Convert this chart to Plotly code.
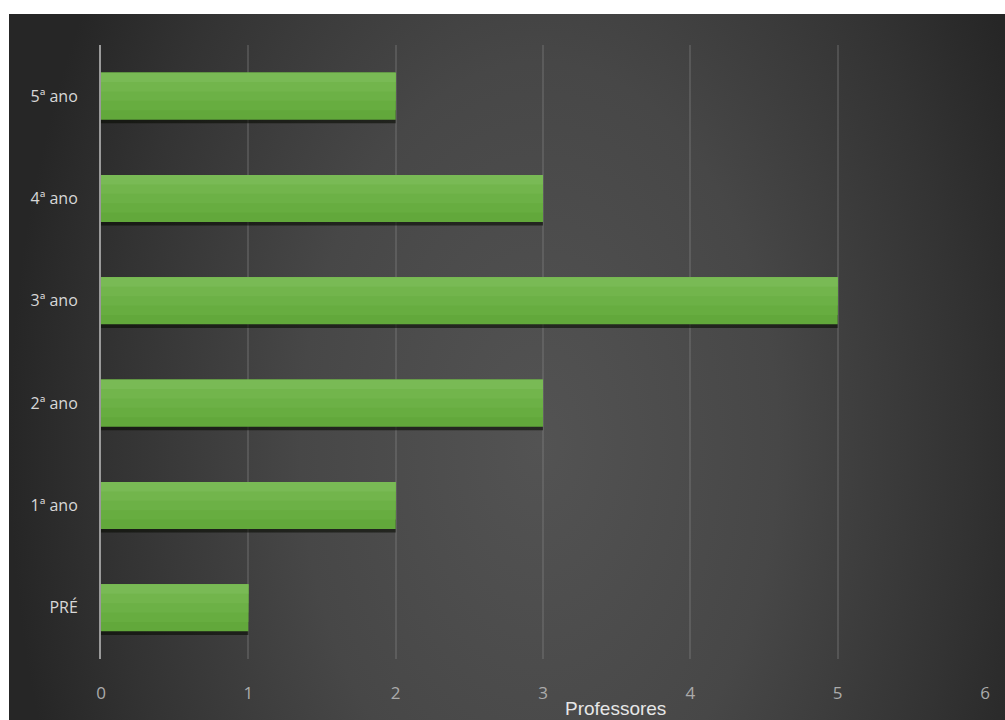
import base64
import plotly.graph_objects as go

# Teachers per school year
categories = ["PRÉ", "1ª ano", "2ª ano", "3ª ano", "4ª ano", "5ª ano"]
professores = [1, 2, 3, 5, 3, 2]
x_ticks = [0, 1, 2, 3, 4, 5, 6]

W, H = 1005, 720
L, R, T, B = 101, 20, 45, 61
plot_w = W - L - R
plot_h = H - T - B

# Dark panel with a soft radial highlight
panel_x0, panel_y0 = 9, 14
panel_w, panel_h = W - panel_x0, H - panel_y0
cx, cy = 530, 430
svg = f"""<svg xmlns='http://www.w3.org/2000/svg' width='{panel_w}' height='{panel_h}'>
<defs>
<radialGradient id='g' gradientUnits='userSpaceOnUse' cx='{cx}' cy='{cy}' r='530'
 gradientTransform='translate({cx} {cy}) scale(1 1.6) translate({-cx} {-cy})'>
<stop offset='0' stop-color='#535353'/>
<stop offset='0.45' stop-color='#474747'/>
<stop offset='0.8' stop-color='#333333'/>
<stop offset='1' stop-color='#262626'/>
</radialGradient>
</defs>
<rect x='0' y='0' width='{panel_w}' height='{panel_h}' fill='url(#g)'/>
</svg>"""
bg_src = "data:image/svg+xml;base64," + base64.b64encode(svg.encode()).decode()

fig = go.Figure()

# Shadow just below each bar
fig.add_trace(go.Bar(
    x=professores, y=categories, orientation="h",
    width=0.46, offset=-0.265,
    marker=dict(color="rgba(8,12,4,0.6)", line=dict(width=0)),
    hoverinfo="skip", showlegend=False,
))

# Bar body: stacked overlays that get lighter towards the top edge
half = 0.23
layers = [
    (1.00, "#62a83b"),
    (0.80, "#67ad40"),
    (0.60, "#6cb146"),
    (0.40, "#72b54c"),
    (0.20, "#79ba55"),
]
for i, (frac, col) in enumerate(layers):
    wd = 2 * half * frac
    fig.add_trace(go.Bar(
        x=professores, y=categories, orientation="h",
        width=wd, offset=half - wd,
        marker=dict(color=col, line=dict(width=0)),
        hoverinfo="x+y" if i == 0 else "skip", showlegend=False,
    ))

fig.add_layout_image(
    source=bg_src, xref="paper", yref="paper",
    x=(panel_x0 - L) / plot_w, y=(H - B - panel_y0) / plot_h,
    sizex=panel_w / plot_w, sizey=panel_h / plot_h,
    xanchor="left", yanchor="top", sizing="stretch", layer="below",
)

fig.add_annotation(
    text="Professores", xref="paper", yref="paper",
    x=(615 - L) / plot_w, y=(H - B - 708) / plot_h,
    xanchor="center", yanchor="middle", showarrow=False,
    font=dict(family="Liberation Sans, Arial", size=19, color="#e6e6e6"),
)

fig.update_layout(
    width=W, height=H,
    margin=dict(l=L, r=R, t=T, b=B),
    paper_bgcolor="white",
    plot_bgcolor="rgba(0,0,0,0)",
    barmode="overlay",
    xaxis=dict(
        range=[0, 6], tickvals=x_ticks, ticktext=[str(v) for v in x_ticks],
        showgrid=True, gridcolor="rgba(140,140,140,0.3)", gridwidth=2,
        zeroline=False, showline=False, ticks="",
        ticklabelstandoff=22,
        tickfont=dict(family="Open Sans", size=17, color="#ababab"),
        fixedrange=True,
    ),
    yaxis=dict(
        categoryorder="array", categoryarray=categories,
        range=[-0.5, 5.5],
        showgrid=False, zeroline=False,
        showline=True, linecolor="#9a9a9a", linewidth=2,
        ticks="", ticklabelstandoff=18,
        tickfont=dict(family="Open Sans", size=16, color="#d8d8d8"),
        fixedrange=True,
    ),
)

fig.write_html("out.html")
